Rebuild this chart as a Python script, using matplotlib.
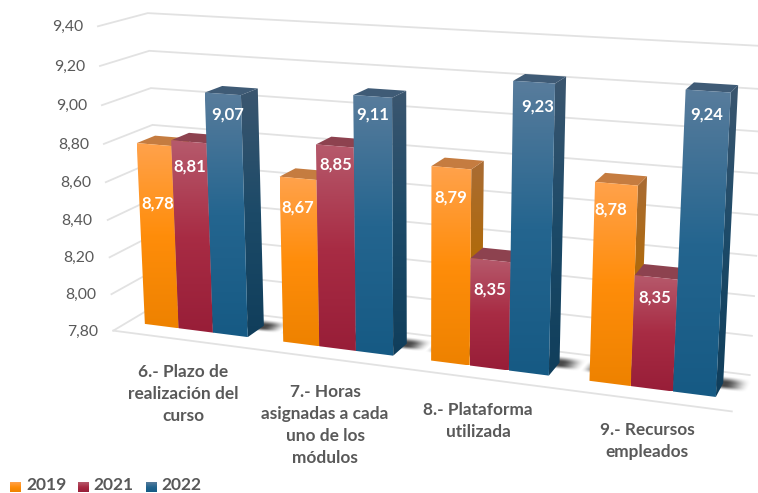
import numpy as np
import matplotlib
matplotlib.use("Agg")
import matplotlib.pyplot as plt
from matplotlib.patches import Polygon
from matplotlib.colors import LinearSegmentedColormap

# ---------- data ----------
categories = ["6.- Plazo de\nrealización del\ncurso",
              "7.- Horas\nasignadas a cada\nuno de los\nmódulos",
              "8.- Plataforma\nutilizada",
              "9.- Recursos\nempleados"]
years = ["2019", "2021", "2022"]
v2019 = [8.78, 8.67, 8.79, 8.78]
v2021 = [8.81, 8.85, 8.35, 8.35]
v2022 = [9.07, 9.11, 9.23, 9.24]
ticks = [7.8, 8.0, 8.2, 8.4, 8.6, 8.8, 9.0, 9.2, 9.4]

# ---------- style ----------
W, H = 758, 493
GRID = "#e2e2e2"
TEXT = "#595959"
FRONT = [["#ffa24c", "#ff8d0a", "#ee8200"],
         ["#b65a6c", "#a82c44", "#981e38"],
         ["#587c9c", "#24658f", "#165a84"]]
SIDE = [["#a96c34", "#b06a08", "#a85f00"],
        ["#7c3644", "#741c2e", "#681526"],
        ["#3b566f", "#1c4a68", "#103e5b"]]
TOP = ["#c57c40", "#8d424f", "#3f5b76"]
LABEL_XY = [[(158, 204), (298, 208), (451, 198), (611, 210)],
            [(190, 167), (336, 165), (490, 290), (655, 298)],
            [(228, 115), (373, 115), (538, 107), (707, 115)]]
CAT_XY = [(183, 394), (325, 425), (478, 421), (647, 441)]
BAR = 0.25
D_FRONT, D_BACK = -0.8, 1.8

# Camera of the fake 3-D chart: least-squares projective fit of
# (category position, value, depth) -> pixel, from the frame seen in the picture.
calib = [
    (0.125, 7.8, 0, 145, 324), (0.875, 7.8, 0, 248, 337), (1.125, 7.8, 0, 283, 342),
    (1.875, 7.8, 0, 393, 355), (2.125, 7.8, 0, 432, 360), (2.875, 7.8, 0, 549, 375),
    (3.125, 7.8, 0, 589, 381), (3.875, 7.8, 0, 715, 397),
    (0.125, 8.78, 0, 137, 143), (0.625, 9.07, 0, 204, 93), (0.875, 9.07, 0, 242, 96),
    (1.625, 9.11, 0, 353, 95), (1.875, 9.11, 0, 392, 97), (2.625, 9.23, 0, 513, 80),
    (2.875, 9.23, 0, 555, 83), (3.625, 9.24, 0, 685, 90), (3.875, 9.24, 0, 731, 93),
    (0.875, 9.07, 1, 258, 88), (0.625, 9.07, 1, 222, 86), (1.875, 9.11, 1, 406, 91),
    (1.625, 9.11, 1, 368, 88), (2.875, 9.23, 1, 566, 76), (2.625, 9.23, 1, 525, 74),
    (3.875, 9.24, 1, 737, 86), (3.625, 9.24, 1, 697, 83),
    (0.875, 7.8, 1, 265, 323), (1.875, 7.8, 1, 407, 343), (2.875, 7.8, 1, 560, 362),
    (3.875, 7.8, 1, 724, 388),
    (0, 9.4, D_BACK, 148, 13), (0, 9.0, D_BACK, 153, 88), (0, 7.8, D_BACK, 157, 306),
    (0, 9.4, D_FRONT, 97, 26), (0, 9.0, D_FRONT, 101, 106), (0, 8.8, D_FRONT, 103, 144),
    (0, 7.8, D_FRONT, 115, 330), (4, 7.8, D_FRONT, 732, 412),
    (4, 7.8, D_BACK, 750, 374), (4, 8.0, D_BACK, 752, 335), (4, 8.2, D_BACK, 753, 295),
    (4, 8.4, D_BACK, 755, 255),
]
rows = []
for u, v, d, px, py in calib:
    a = np.array([u / 4, (v - 7.8) / 1.6, d / 2, 1.0])
    p, q = px / W, py / H
    rows.append(np.r_[a, np.zeros(4), -p * a])
    rows.append(np.r_[np.zeros(4), a, -q * a])
P = np.linalg.svd(np.array(rows))[2][-1].reshape(3, 4)


def proj(u, v, d):
    a = np.array([u / 4, (v - 7.8) / 1.6, d / 2, 1.0])
    x, y, w = P @ a
    return x / w * W, y / w * H


fig = plt.figure(figsize=(W / 100, H / 100), dpi=100, facecolor="white")
ax = fig.add_axes([0, 0, 1, 1])
ax.set_axis_off()


def face(pts, stops, z):
    pts = np.array(pts)
    x0, y0 = pts.min(axis=0)
    x1, y1 = pts.max(axis=0)
    cmap = LinearSegmentedColormap.from_list("f", stops)
    im = ax.imshow(np.linspace(0, 1, 128)[:, None], cmap=cmap, vmin=0, vmax=1,
                   extent=(x0, x1, y1, y0), origin="upper", aspect="auto",
                   interpolation="bilinear", zorder=z)
    im.set_clip_path(Polygon(pts, closed=True, transform=ax.transData))


def smooth(t):
    t = np.clip(t, 0, 1)
    return t * t * (3 - 2 * t)


# gridlines: left wall + back wall
for t in ticks:
    a, b, c = proj(0.0, t, D_FRONT), proj(0.0, t, D_BACK), proj(4.0, t, D_BACK)
    ax.plot([a[0], b[0], c[0]], [a[1], b[1], c[1]], color=GRID, lw=1.3, zorder=1,
            solid_joinstyle="miter")
    lab = f"{t:.2f}".replace(".", ",")
    ax.text(a[0] - 15, a[1] + 1, lab, ha="right", va="center", color=TEXT,
            fontsize=11.3, family="Lato")
f0, f1 = proj(0.0, 7.8, D_FRONT), proj(4.0, 7.8, D_FRONT)
ax.plot([f0[0], f1[0]], [f0[1], f1[1]], color=GRID, lw=1.3, zorder=1)

# soft floor shadow: invert the camera on the floor plane for every pixel
px, py = np.meshgrid((np.arange(W) + 0.5) / W, (np.arange(H) + 0.5) / H)
Hinv = np.linalg.inv(P[:, [0, 2, 3]])
n = Hinv @ np.stack([px.ravel(), py.ravel(), np.ones(px.size)])
fu = (n[0] / n[2] * 4).reshape(px.shape)
fd = (n[1] / n[2] * 2).reshape(px.shape)
alpha = np.zeros(px.shape)
for c in range(4):
    ua, ub = c + 0.125 - 0.1, c + 0.875 + 0.16
    da, db = 0.5, 1.55
    alpha = np.maximum(alpha, smooth((fu - ua) / 0.1) * smooth((ub - fu) / 0.15)
                       * smooth((fd - da) / 0.35) * smooth((db - fd) / 0.5))
rgba = np.zeros((H, W, 4))
rgba[..., 3] = alpha * 0.72
ax.imshow(rgba, extent=(0, W, H, 0), origin="upper", aspect="auto",
          interpolation="bilinear", zorder=5)

# bars
series = [v2019, v2021, v2022]
z = 10
for c in range(4):
    u0 = c + 0.125
    for s in range(3):
        v = series[s][c]
        a, b = u0 + s * BAR, u0 + (s + 1) * BAR
        side = [proj(b, v, 0.0), proj(b, v, 1.0), proj(b, 7.8, 1.0), proj(b, 7.8, 0.0)]
        face(side, SIDE[s], z); z += 1
        top = [proj(a, v, 0.0), proj(a, v, 1.0), proj(b, v, 1.0), proj(b, v, 0.0)]
        ax.add_patch(Polygon(top, closed=True, fc=TOP[s], ec="none", zorder=z)); z += 1
        front = [proj(a, v, 0.0), proj(b, v, 0.0), proj(b, 7.8, 0.0), proj(a, 7.8, 0.0)]
        face(front, FRONT[s], z); z += 1

# data labels
for s in range(3):
    for c in range(4):
        x, y = LABEL_XY[s][c]
        ax.text(x, y, f"{series[s][c]:.2f}".replace(".", ","), ha="center", va="center",
                color="white", fontsize=12, fontweight="bold", family="Lato", zorder=200)

# category labels
for (x, y), name in zip(CAT_XY, categories):
    ax.text(x, y, name, ha="center", va="center", color=TEXT, fontsize=12.4,
            fontweight="bold", family="Lato", linespacing=1.48, zorder=200)

# legend
for s, (sx, tx) in enumerate(zip([10, 78, 146], [26, 93, 161])):
    face([(sx, 482), (sx + 11, 482), (sx + 11, 492), (sx, 492)], FRONT[s], 210)
    ax.text(tx, 485.5, years[s], ha="left", va="center", color=TEXT, fontsize=12.5,
            fontweight="bold", family="Lato", zorder=210)

ax.set_xlim(0, W)
ax.set_ylim(H, 0)
fig.savefig("out.png", dpi=100, facecolor="white")
